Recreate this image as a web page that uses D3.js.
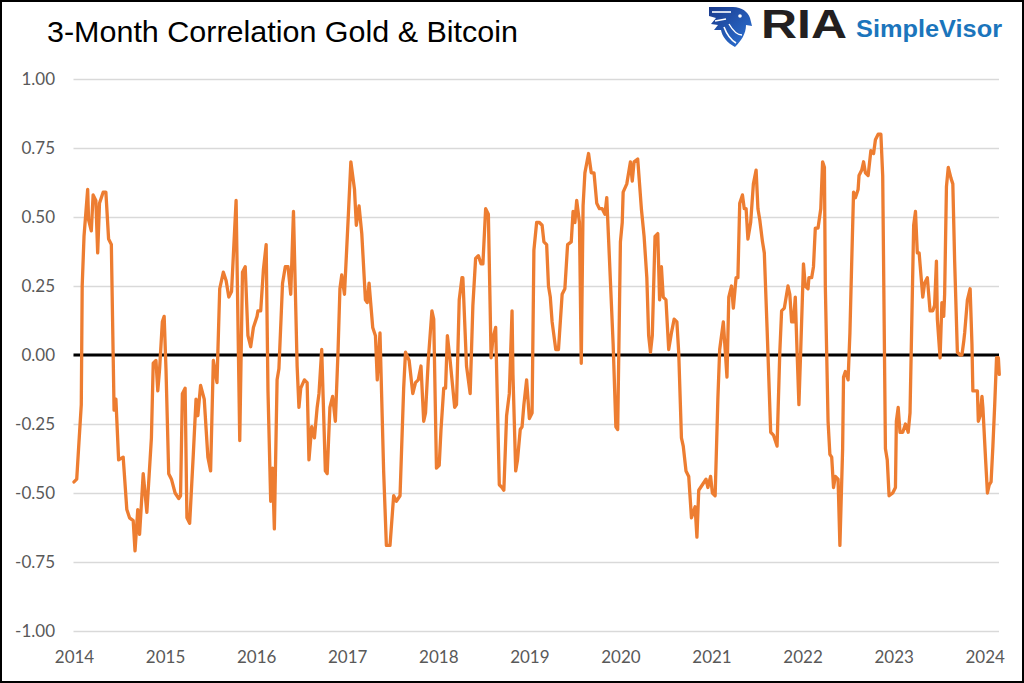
<!DOCTYPE html>
<html><head><meta charset="utf-8">
<script src="https://cdn.jsdelivr.net/npm/d3@7"></script>
<style>html,body{margin:0;padding:0;background:#fff;} svg{display:block;}</style>
</head><body>
<svg id="chart" width="1024" height="683"></svg>
<script>
const title = "3-Month Correlation Gold & Bitcoin";
const yTicks = [1, 0.75, 0.5, 0.25, 0, -0.25, -0.5, -0.75, -1];
const xTickYears = [2014, 2015, 2016, 2017, 2018, 2019, 2020, 2021, 2022, 2023, 2024];

const dates = [
2014.00,2014.03,2014.05,2014.08,2014.09,2014.11,2014.15,2014.16,2014.19,2014.21,
2014.24,2014.26,2014.28,2014.32,2014.35,2014.38,2014.41,2014.43,2014.44,2014.46,
2014.49,2014.54,2014.58,2014.61,2014.65,2014.67,2014.70,2014.72,2014.76,2014.80,
2014.85,2014.87,2014.90,2014.92,2014.94,2014.97,2014.99,2015.01,2015.04,2015.07,
2015.11,2015.15,2015.17,2015.19,2015.22,2015.24,2015.27,2015.31,2015.34,2015.36,
2015.39,2015.43,2015.47,2015.50,2015.53,2015.57,2015.60,2015.64,2015.67,2015.70,
2015.73,2015.78,2015.82,2015.85,2015.88,2015.91,2015.94,2015.97,2016.01,2016.02,
2016.05,2016.08,2016.11,2016.13,2016.16,2016.18,2016.20,2016.23,2016.25,2016.29,
2016.32,2016.35,2016.38,2016.41,2016.45,2016.47,2016.49,2016.53,2016.56,2016.58,
2016.61,2016.64,2016.67,2016.69,2016.72,2016.76,2016.78,2016.81,2016.84,2016.87,
2016.90,2016.92,2016.94,2016.97,2017.01,2017.04,2017.08,2017.10,2017.13,2017.16,
2017.20,2017.22,2017.24,2017.28,2017.31,2017.33,2017.36,2017.40,2017.43,2017.47,
2017.51,2017.54,2017.58,2017.62,2017.64,2017.68,2017.72,2017.75,2017.78,2017.81,
2017.84,2017.86,2017.89,2017.93,2017.95,2017.98,2018.01,2018.03,2018.06,2018.08,
2018.10,2018.13,2018.18,2018.20,2018.23,2018.26,2018.27,2018.31,2018.35,2018.38,
2018.41,2018.44,2018.47,2018.49,2018.52,2018.55,2018.58,2018.60,2018.63,2018.67,
2018.70,2018.72,2018.75,2018.78,2018.81,2018.82,2018.85,2018.87,2018.90,2018.92,
2018.94,2018.97,2019.00,2019.03,2019.05,2019.08,2019.11,2019.14,2019.16,2019.19,
2019.21,2019.23,2019.25,2019.29,2019.32,2019.36,2019.39,2019.42,2019.46,2019.48,
2019.50,2019.52,2019.55,2019.57,2019.59,2019.61,2019.65,2019.68,2019.71,2019.74,
2019.77,2019.80,2019.83,2019.85,2019.87,2019.92,2019.95,2019.97,2020.00,2020.02,
2020.03,2020.07,2020.09,2020.11,2020.13,2020.15,2020.19,2020.23,2020.26,2020.29,
2020.31,2020.33,2020.35,2020.38,2020.41,2020.43,2020.45,2020.47,2020.50,2020.53,
2020.56,2020.59,2020.62,2020.64,2020.67,2020.69,2020.72,2020.75,2020.78,2020.82,
2020.84,2020.86,2020.90,2020.94,2020.96,2020.99,2021.01,2021.04,2021.07,2021.09,
2021.13,2021.17,2021.19,2021.22,2021.24,2021.27,2021.29,2021.31,2021.34,2021.36,
2021.38,2021.40,2021.43,2021.46,2021.49,2021.51,2021.53,2021.56,2021.58,2021.61,
2021.65,2021.68,2021.70,2021.72,2021.75,2021.77,2021.80,2021.84,2021.86,2021.88,
2021.90,2021.92,2021.94,2021.96,2021.98,2022.01,2022.03,2022.06,2022.07,2022.10,
2022.12,2022.14,2022.17,2022.20,2022.22,2022.24,2022.25,2022.28,2022.30,2022.32,
2022.34,2022.36,2022.39,2022.41,2022.44,2022.45,2022.47,2022.50,2022.52,2022.54,
2022.56,2022.58,2022.61,2022.62,2022.65,2022.67,2022.69,2022.72,2022.75,2022.78,
2022.80,2022.83,2022.86,2022.88,2022.91,2022.93,2022.95,2022.99,2023.02,2023.03,
2023.05,2023.07,2023.10,2023.13,2023.16,2023.18,2023.20,2023.22,2023.24,2023.26,
2023.28,2023.32,2023.34,2023.37,2023.40,2023.43,2023.45,2023.47,2023.48,2023.51,
2023.53,2023.55,2023.56,2023.58,2023.60,2023.63,2023.65,2023.67,2023.70,2023.73,
2023.75,2023.77,2023.78,2023.81,2023.84,2023.86,2023.87,2023.89,2023.92,2023.93,
2023.95,2023.97,2023.98,2024.01,2024.03,2024.05,2024.07,2024.09,2024.11,2024.13,
2024.15,2024.16
];

const corr = [
-0.46,-0.45,-0.34,-0.18,0.25,0.43,0.60,0.49,0.45,0.58,
0.56,0.37,0.55,0.59,0.59,0.42,0.40,0.00,-0.20,-0.16,
-0.38,-0.37,-0.56,-0.59,-0.60,-0.71,-0.56,-0.65,-0.43,-0.57,
-0.30,-0.03,-0.02,-0.13,-0.05,0.12,0.14,-0.05,-0.43,-0.45,
-0.50,-0.52,-0.51,-0.14,-0.12,-0.59,-0.61,-0.36,-0.16,-0.22,
-0.11,-0.16,-0.37,-0.42,-0.02,-0.10,0.24,0.30,0.27,0.21,
0.23,0.56,-0.31,0.30,0.32,0.07,0.03,0.10,0.14,0.16,
0.16,0.31,0.40,-0.13,-0.53,-0.41,-0.63,-0.09,-0.05,0.26,
0.32,0.32,0.22,0.52,-0.04,-0.19,-0.12,-0.09,-0.10,-0.38,
-0.26,-0.30,-0.19,-0.14,0.02,-0.42,-0.43,-0.19,-0.15,-0.24,
0.02,0.24,0.29,0.22,0.49,0.70,0.60,0.47,0.54,0.44,
0.20,0.19,0.26,0.10,0.07,-0.09,0.08,-0.42,-0.69,-0.69,
-0.51,-0.53,-0.51,-0.12,0.01,-0.02,-0.14,-0.10,-0.09,-0.04,
-0.24,-0.21,-0.02,0.16,0.13,-0.41,-0.40,-0.27,-0.12,-0.12,
0.07,-0.02,-0.19,-0.18,0.20,0.28,0.28,-0.04,-0.14,0.18,
0.35,0.36,0.33,0.33,0.53,0.51,-0.01,0.06,0.10,-0.47,
-0.48,-0.49,-0.22,-0.14,0.16,-0.07,-0.42,-0.38,-0.27,-0.26,
-0.18,-0.09,-0.23,-0.21,0.38,0.48,0.48,0.47,0.41,0.40,
0.25,0.21,0.12,0.02,0.02,0.22,0.24,0.40,0.41,0.52,
0.48,0.56,0.48,-0.03,0.54,0.66,0.73,0.66,0.66,0.55,
0.53,0.53,0.51,0.57,0.42,0.04,-0.26,-0.27,0.41,0.48,
0.59,0.62,0.66,0.70,0.63,0.70,0.71,0.53,0.43,0.28,
0.07,0.01,0.07,0.43,0.44,0.20,0.32,0.21,0.20,0.02,
0.08,0.13,0.12,0.01,-0.30,-0.33,-0.42,-0.44,-0.59,-0.55,
-0.66,-0.49,-0.47,-0.45,-0.48,-0.44,-0.50,-0.51,-0.16,0.02,
0.12,-0.08,0.21,0.25,0.17,0.28,0.28,0.55,0.58,0.53,
0.53,0.42,0.48,0.62,0.67,0.53,0.49,0.41,0.37,0.10,
-0.28,-0.29,-0.31,-0.33,0.01,0.16,0.17,0.25,0.22,0.12,
0.12,0.21,0.01,-0.18,0.02,0.33,0.25,0.24,0.28,0.28,
0.32,0.46,0.46,0.53,0.70,0.68,0.25,-0.24,-0.36,-0.37,
-0.48,-0.44,-0.45,-0.69,-0.34,-0.08,-0.06,-0.09,0.08,0.34,
0.59,0.57,0.60,0.65,0.67,0.70,0.66,0.65,0.74,0.73,
0.78,0.80,0.80,0.65,-0.34,-0.38,-0.51,-0.50,-0.48,-0.24,
-0.19,-0.28,-0.28,-0.25,-0.28,-0.21,0.13,0.47,0.52,0.37,
0.37,0.21,0.26,0.28,0.16,0.16,0.18,0.34,0.13,-0.01,
0.19,0.14,0.22,0.61,0.68,0.64,0.62,0.34,0.01,0.00,
0.00,0.05,0.08,0.20,0.24,0.04,-0.13,-0.13,-0.13,-0.24,
-0.22,-0.15,-0.19,-0.38,-0.50,-0.47,-0.46,-0.33,-0.18,-0.01,
-0.01,-0.07
];

const series = dates.map((d, i) => ({ t: d, v: corr[i] }));

const svg = d3.select("#chart");
const W = 1024, H = 683;
const plotLeft = 73.5, plotRight = 999;
const x = d3.scaleLinear().domain([2014, 2024]).range([74, 984.7]);
const y = d3.scaleLinear().domain([-1, 1]).range([631, 79]);

svg.append("rect").attr("width", W).attr("height", H).attr("fill", "#fff");

// Y gridlines + labels
const yAxis = d3.axisLeft(y)
  .tickValues(yTicks)
  .tickSize(-(plotRight - plotLeft))
  .tickPadding(plotLeft - 55)
  .tickFormat(v => v.toFixed(2));
const gy = svg.append("g").attr("transform", `translate(${plotLeft},0)`).call(yAxis);
gy.select(".domain").remove();
gy.selectAll(".tick line").attr("stroke", "#d9d9d9").attr("stroke-width", 1.3);
gy.selectAll(".tick text")
  .attr("fill", "#595959")
  .style("font-family", "Lato, 'Open Sans', sans-serif")
  .style("font-size", "17px");

// X labels
const xAxis = d3.axisBottom(x)
  .tickValues(xTickYears)
  .tickSize(0)
  .tickPadding(20)
  .tickFormat(d3.format("d"));
const gx = svg.append("g").attr("transform", `translate(0,${y(-1)})`).call(xAxis);
gx.select(".domain").remove();
gx.selectAll(".tick text")
  .attr("fill", "#595959")
  .style("font-family", "Lato, 'Open Sans', sans-serif")
  .style("font-size", "17px");

// zero line
svg.append("line")
  .attr("x1", plotLeft).attr("x2", plotRight)
  .attr("y1", y(0)).attr("y2", y(0))
  .attr("stroke", "#000").attr("stroke-width", 3);

// series
const line = d3.line().x(d => x(d.t)).y(d => y(d.v));
svg.append("path")
  .datum(series)
  .attr("d", line)
  .attr("fill", "none")
  .attr("stroke", "#ED7D31")
  .attr("stroke-width", 3.3)
  .attr("stroke-linejoin", "round")
  .attr("stroke-linecap", "round");

// title
svg.append("text")
  .attr("x", 47).attr("y", 42)
  .text(title)
  .attr("fill", "#000")
  .attr("textLength", 471).attr("lengthAdjust", "spacingAndGlyphs")
  .style("font-family", "'Liberation Sans', Arial, sans-serif")
  .style("font-size", "29px");

// logo
const defs = svg.append("defs");
const grad = defs.append("linearGradient").attr("id", "eg").attr("x1", "0").attr("y1", "0").attr("x2", "1").attr("y2", "1");
grad.append("stop").attr("offset", "0").attr("stop-color", "#1a3a8c");
grad.append("stop").attr("offset", "1").attr("stop-color", "#2d74d6");
const logo = svg.append("g").attr("transform", "translate(709,5)");
logo.append("path")
  .attr("d", "M0,2 L24,2 C33,2 39,7 41,13 L43,21 L37,20 C37,29 32,36 26,42 C18,38 13,31 12,25 L5,25 L9,20 L2,19 L7,13 L0,11 Z")
  .attr("fill", "url(#eg)");
logo.append("path").attr("d", "M3,7 L22,7").attr("stroke", "#fff").attr("stroke-width", 1.6);
logo.append("path").attr("d", "M6,16 L17,14").attr("stroke", "#fff").attr("stroke-width", 1.6);
logo.append("path").attr("d", "M15,22 C18,30 22,35 27,38").attr("stroke", "#fff").attr("stroke-width", 1.6).attr("fill", "none");
logo.append("path").attr("d", "M20,19 C24,26 28,30 33,30").attr("stroke", "#fff").attr("stroke-width", 1.4).attr("fill", "none");
logo.append("circle").attr("cx", 31).attr("cy", 11).attr("r", 1.8).attr("fill", "#fff");

svg.append("text")
  .attr("x", 761).attr("y", 38)
  .text("RIA")
  .attr("fill", "#231f20")
  .attr("textLength", 86).attr("lengthAdjust", "spacingAndGlyphs")
  .style("font-family", "'Liberation Sans', Arial, sans-serif")
  .style("font-weight", "bold")
  .style("font-size", "40px");
svg.append("text")
  .attr("x", 856).attr("y", 37)
  .text("SimpleVisor")
  .attr("fill", "#1b75bc")
  .attr("textLength", 146).attr("lengthAdjust", "spacingAndGlyphs")
  .style("font-family", "'Liberation Sans', Arial, sans-serif")
  .style("font-weight", "bold")
  .style("font-size", "24px");

// frame
svg.append("rect")
  .attr("x", 1).attr("y", 1).attr("width", W - 2).attr("height", H - 2)
  .attr("fill", "none").attr("stroke", "#000").attr("stroke-width", 2);
</script>
</body></html>
